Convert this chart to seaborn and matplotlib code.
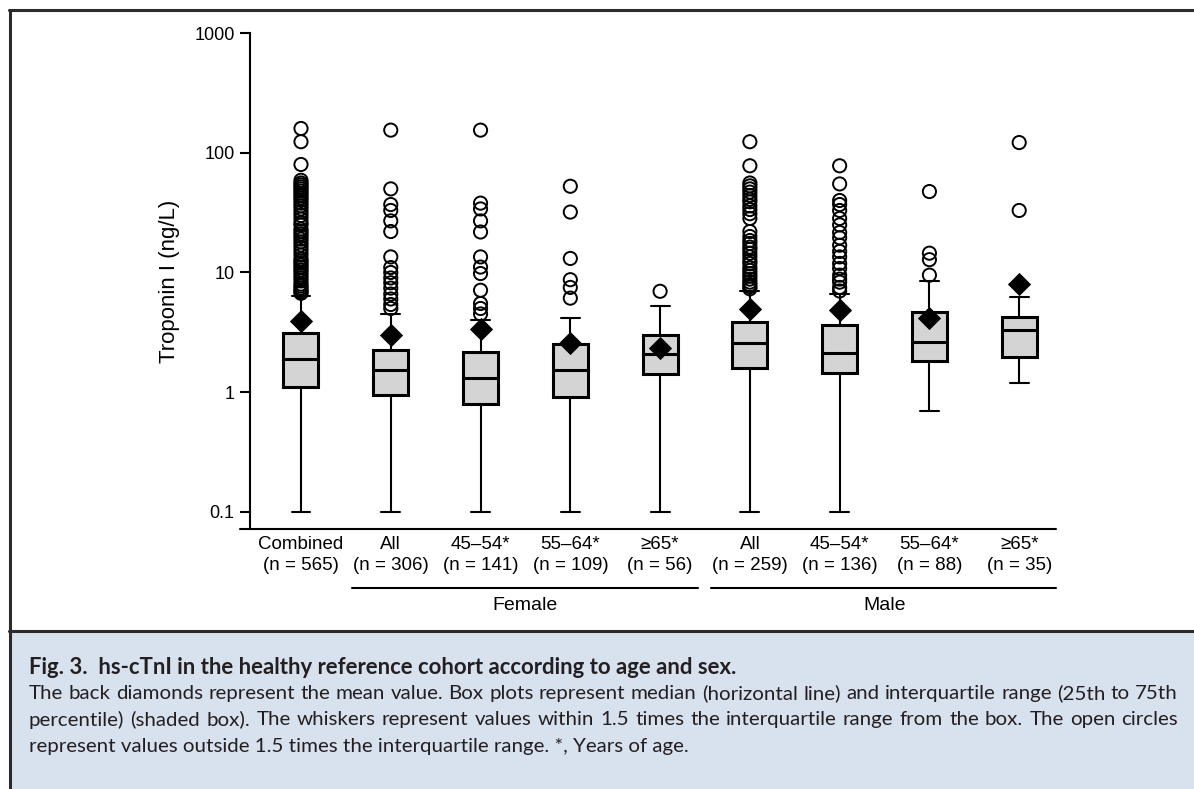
import matplotlib
matplotlib.use("Agg")
import matplotlib.pyplot as plt
import seaborn as sns
import pandas as pd
from matplotlib.lines import Line2D
from matplotlib.patches import Rectangle
from matplotlib.ticker import NullLocator
from matplotlib import font_manager
import matplotlib.transforms as mtransforms

# --- данные ---
groups = ["Combined", "All", "45–54*", "55–64*", "≥65*", "All", "45–54*", "55–64*", "≥65*"]
n_counts = [565, 306, 141, 109, 56, 259, 136, 88, 35]
whis_lo = [0.1, 0.1, 0.1, 0.1, 0.1, 0.1, 0.1, 0.69, 1.18]
q1 = [1.10, 0.94, 0.80, 0.91, 1.41, 1.60, 1.44, 1.83, 1.96]
medians = [1.90, 1.54, 1.31, 1.54, 2.10, 2.56, 2.12, 2.60, 3.33]
q3 = [3.12, 2.23, 2.16, 2.54, 3.02, 3.85, 3.66, 4.67, 4.24]
whis_hi = [6.36, 4.53, 4.04, 4.16, 5.25, 6.96, 6.6, 8.45, 6.24]
means = [3.95, 3.0, 3.4, 2.57, 2.33, 4.92, 4.83, 4.15, 7.96]

fliers = [
    [160, 124, 80, 59, 56, 54, 52, 50, 48, 46, 44, 42, 40, 38, 36, 34, 32, 30, 28,
     26, 25, 23, 22, 21, 20, 19, 18, 17, 16, 15, 14, 13, 12.5, 12, 11.5, 11, 10.5,
     10, 9.5, 9, 8.5, 8, 7.7, 7.4, 7.1, 6.9, 6.7],
    [155, 50, 37, 33, 27, 22, 13.5, 11, 10, 9, 8.2, 7.4, 6.6, 6.0, 5.4, 5.0],
    [155, 38, 34, 27, 21.8, 13.5, 11.1, 9.8, 7.1, 5.5, 5.0, 4.5],
    [52.6, 32, 13.1, 8.7, 7.5, 6.1],
    [6.96],
    [124, 78, 56, 53, 50, 47, 44, 41, 39, 36, 33.6, 31, 28.3, 22, 20, 18.5, 17.5,
     16.3, 15.6, 14.5, 13.5, 12.5, 11.9, 11, 10.4, 9.8, 9.3, 8.8, 8.3, 7.9, 7.6, 7.3],
    [78, 55, 40, 37, 33, 28.3, 25, 21.6, 19.5, 16.9, 15, 13.5, 11.9, 10.8, 9.5,
     8.8, 8.3, 7.5, 7.0],
    [47.5, 14.5, 12.8, 9.5],
    [122, 33],
]

sex_groups = ["Female", "Male"]
sex_members = [[1, 2, 3, 4], [5, 6, 7, 8]]

caption_title = "Fig. 3.  hs-cTnI in the healthy reference cohort according to age and sex."
caption_lines = [
    "The back diamonds represent the mean value. Box plots represent median (horizontal line) and interquartile range (25th to 75th",
    "percentile) (shaded box). The whiskers represent values within 1.5 times the interquartile range from the box. The open circles",
    "represent values outside 1.5 times the interquartile range. *, Years of age.",
]

sns.set_theme(style="ticks")
plt.rcParams["font.family"] = ["Liberation Sans", "DejaVu Sans"]

W, H = 1194, 789
fig = plt.figure(figsize=(W / 100, H / 100), dpi=100)
fig.patch.set_facecolor("white")


def fx(px):
    return px / W


def fy(py):
    return 1 - py / H


# рамка и подложка подписи
frame_col = "#2b2b2b"
fig.add_artist(Rectangle((fx(10), 0), 1 - fx(10), fy(631), facecolor="#d8e1ee",
                         edgecolor="none", zorder=0))
fig.add_artist(Line2D([fx(9), 1], [fy(10), fy(10)], color=frame_col, lw=2.2))
fig.add_artist(Line2D([fx(9), 1], [fy(631), fy(631)], color=frame_col, lw=2.2))
fig.add_artist(Line2D([fx(10), fx(10)], [0, fy(10)], color=frame_col, lw=2.2))

ax = fig.add_axes([fx(250), fy(529), fx(1056) - fx(250), fy(33.3) - fy(529)])
ax.set_facecolor("none")

positions = list(range(len(groups)))
stats = []
for i in positions:
    stats.append(dict(whislo=whis_lo[i], q1=q1[i], med=medians[i], q3=q3[i],
                      whishi=whis_hi[i], fliers=[]))

ax.bxp(stats, positions=positions, widths=0.39, capwidths=0.21, showfliers=False,
       patch_artist=True,
       boxprops=dict(facecolor="#d4d4d4", edgecolor="black", linewidth=2.2),
       medianprops=dict(color="black", linewidth=2.2),
       whiskerprops=dict(color="black", linewidth=1.5),
       capprops=dict(color="black", linewidth=1.5))

fl_df = pd.DataFrame([(i, v) for i in positions for v in fliers[i]], columns=["pos", "value"])
mean_df = pd.DataFrame({"pos": positions, "value": means})

sns.scatterplot(data=fl_df, x="pos", y="value", marker="o", s=90, color="black",
                linewidth=1.4, ax=ax, legend=False, zorder=3)
ax.collections[-1].set_facecolor("none")
ax.collections[-1].set_edgecolor("black")
sns.scatterplot(data=mean_df, x="pos", y="value", marker="D", s=140, color="black",
                edgecolor="black", linewidth=0, ax=ax, legend=False, zorder=4)

ax.set_yscale("log")
ax.set_ylim(0.0716, 1000)
ax.set_xlim(-0.568, 8.41)
ax.set_yticks([0.1, 1, 10, 100, 1000], labels=["0.1", "1", "10", "100", "1000"])
ax.yaxis.set_minor_locator(NullLocator())
ax.set_xticks(positions, labels=[f"{g}\n(n = {n})" for g, n in zip(groups, n_counts)])
ax.tick_params(axis="x", length=0, pad=5, labelsize=13.5, colors="black")
ax.tick_params(axis="y", length=7, width=1.5, pad=4, labelsize=13, colors="black")
for lab in ax.get_xticklabels():
    lab.set_linespacing(1.3)
ax.set_xlabel("")
ax.set_ylabel("Troponin I (ng/L)", fontsize=16, color="black")
ax.yaxis.set_label_coords(-0.087, 0.5)

for s in ["top", "right", "bottom"]:
    ax.spines[s].set_visible(False)
ax.spines["left"].set_linewidth(1.5)
ax.spines["left"].set_color("black")
ax.add_line(Line2D([-0.0124, 1.0], [0, 0], transform=ax.transAxes, color="black",
                   lw=1.5, clip_on=False))

# подписи групп по полу
trans = mtransforms.blended_transform_factory(ax.transData, ax.transAxes)
for name, members in zip(sex_groups, sex_members):
    x0 = members[0] - 0.43
    x1 = min(members[-1] + 0.42, 8.41)
    ax.plot([x0, x1], [-0.119, -0.119], transform=trans, color="black", lw=1.5,
            clip_on=False)
    ax.text((members[0] + members[-1]) / 2, -0.155, name, transform=trans,
            ha="center", va="center", fontsize=14, color="black")

# подпись рисунка: узкий шрифт, если он есть
cap_family = "Lato"
for cand in ["Liberation Sans Narrow", "DejaVu Sans Condensed"]:
    try:
        font_manager.findfont(font_manager.FontProperties(family=cand),
                              fallback_to_default=False)
        cap_family = cand
        break
    except Exception:
        pass
cap_font = [cap_family, "DejaVu Sans"]
txt_col = "#231f20"
renderer = fig.canvas.get_renderer()


def text_width(s, size, weight="normal"):
    t = fig.text(0, 0, s, fontsize=size, family=cap_font, fontweight=weight)
    w = t.get_window_extent(renderer).width
    t.remove()
    return w


base = 12
size = base * 696 / text_width(caption_lines[2], base)
size = min(size, base * 1140 / text_width(caption_lines[0], base))
left_px, right_px = 29, 1178
title_size = min(size * 1.08, base * 745 / text_width(caption_title, base, "bold"))

fig.text(fx(left_px), fy(665), caption_title, fontsize=title_size, family=cap_font,
         fontweight="bold", color=txt_col, ha="left", va="center_baseline")

line_y = [692, 718, 745]
for k, line in enumerate(caption_lines):
    if k < 2:
        words = line.split(" ")
        widths = [text_width(w, size) for w in words]
        gap = (right_px - left_px - sum(widths)) / (len(words) - 1)
        x = left_px
        for w, wd in zip(words, widths):
            fig.text(fx(x), fy(line_y[k]), w, fontsize=size, family=cap_font,
                     color=txt_col, ha="left", va="center_baseline")
            x += wd + gap
    else:
        fig.text(fx(left_px), fy(line_y[k]), line, fontsize=size, family=cap_font,
                 color=txt_col, ha="left", va="center_baseline")

fig.savefig("out.png", dpi=100)
